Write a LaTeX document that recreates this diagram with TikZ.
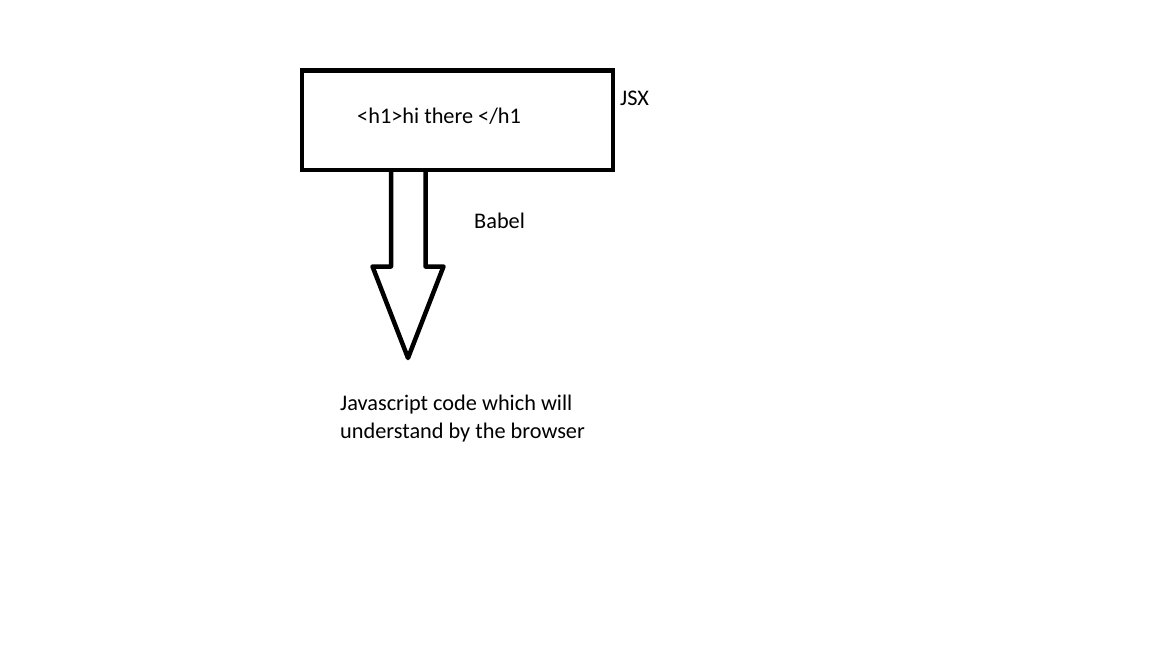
\documentclass[tikz,border=0pt]{standalone}
\usepackage{fontspec}
\setmainfont{Carlito}
\begin{document}
\begin{tikzpicture}[x=1pt,y=-1pt,
  thick4/.style={line width=4.5pt,line join=round},
  lbl/.style={anchor=base west,inner sep=0pt,font=\fontsize{22.3}{28}\selectfont}]
\useasboundingbox (0,0) rectangle (1152,648);
\fill[white] (0,0) rectangle (1152,648);
\node[draw,thick4,line join=miter,minimum width=311pt,minimum height=99.5pt,inner sep=0pt] (box) at (457.5,120.25) {};
\node[lbl] (code) at (357,123) {<h1>hi there </h1};
\node[lbl] (jsx) at (620,105) {JSX};
\node[lbl] (babel) at (474,228) {Babel};
\node[lbl,align=left] (out) at (340,438) {Javascript code which will\\understand by the browser};
\coordinate (tip) at (408,358);
\draw[thick4] (391,170) -- (391,266.5) -- (372.5,266.5) -- (tip) -- (443.5,266.5) -- (425.5,266.5) -- (425.5,170);
\end{tikzpicture}
\end{document}
